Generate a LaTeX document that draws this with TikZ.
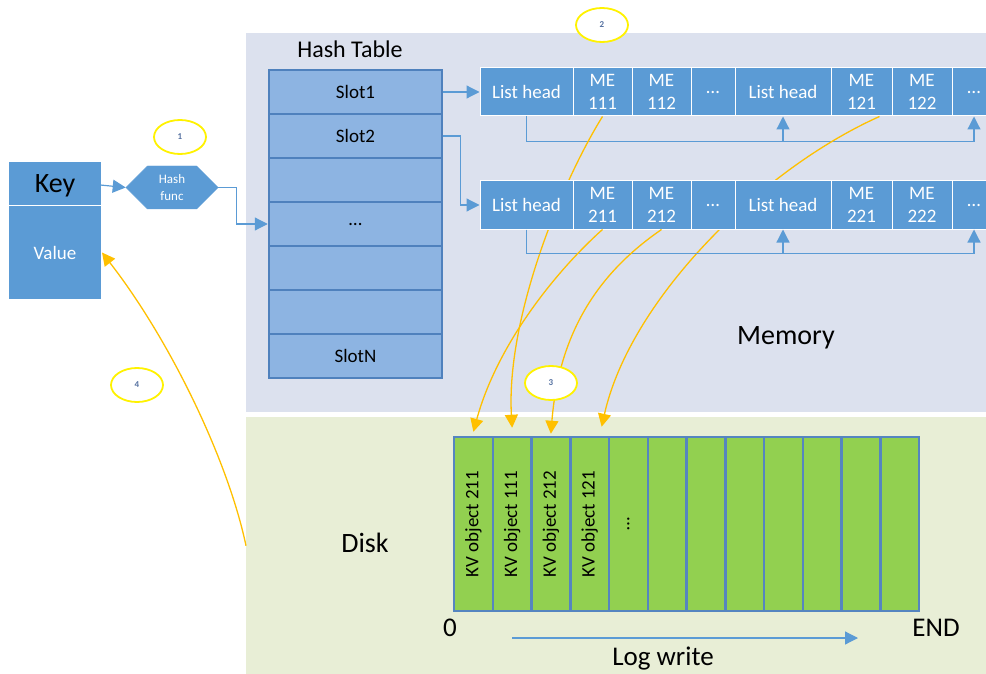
\documentclass[tikz,border=0pt]{standalone}
\usepackage{fontspec}
\setmainfont{Carlito}
\usepackage{tikz}
\usetikzlibrary{shapes.geometric,shapes.symbols,arrows.meta,positioning,calc}

\definecolor{cellblue}{HTML}{5B9BD5}
\definecolor{slotfill}{HTML}{8DB4E2}
\definecolor{slotedge}{HTML}{4F81BD}
\definecolor{memfill}{HTML}{DCE1EE}
\definecolor{diskfill}{HTML}{E8EED6}
\definecolor{loggreen}{HTML}{92D050}
\definecolor{logedge}{HTML}{5585C0}
\definecolor{wireorange}{HTML}{FFC000}
\definecolor{tagyellow}{HTML}{FFF200}
\definecolor{tagtext}{HTML}{5470A0}

\newcommand{\setfs}[2]{\fontsize{#1}{#2}\selectfont}

\begin{document}
\begin{tikzpicture}[
x=1pt, y=-1pt,
area/.style={inner sep=0pt, anchor=north west},
memcell/.style={draw=white, line width=1pt, fill=cellblue, text=white, align=center,
  minimum height=48pt, inner sep=0pt, font=\setfs{19}{23}},
slot/.style={draw=slotedge, line width=2.5pt, fill=slotfill, minimum width=173pt,
  minimum height=44pt, inner sep=0pt, font=\setfs{19}{23}},
logcell/.style={draw=logedge, line width=2.5pt, fill=loggreen, minimum width=38.75pt,
  minimum height=174pt, inner sep=0pt},
kvtext/.style={rotate=90, font=\setfs{19}{23}},
tag/.style={ellipse, draw=tagyellow, line width=1.8pt, fill=white, minimum width=52pt,
  minimum height=34pt, inner sep=0pt, text=tagtext, font=\setfs{9}{10}\bfseries},
link/.style={-{Triangle[length=13pt,width=13pt]}, draw=cellblue, line width=1.2pt},
wire/.style={-{Triangle[length=13pt,width=13pt]}, draw=wireorange, line width=1.3pt}
]
\useasboundingbox (0,0) rectangle (986,674);

% Memory and disk areas
\node[area, fill=memfill, minimum width=740pt, minimum height=379pt] (membg) at (246,33) {};
\node[area, fill=diskfill, minimum width=740pt, minimum height=257pt] (diskbg) at (246,417) {};
\node[font=\setfs{28}{32}] (memlabel) at (786,338) {Memory};
\node[font=\setfs{28}{32}] (disklabel) at (365,543) {Disk};

% Key / value and hash function
\node[fill=cellblue, draw=white, line width=1pt, minimum width=93pt, minimum height=44pt,
  inner sep=0pt, text depth=0pt, font=\setfs{28}{32}] (key) at (55,184) {Key};
\node[fill=cellblue, draw=white, line width=1pt, minimum width=93pt, minimum height=93pt,
  inner sep=0pt, text=white, font=\setfs{19}{23}] (value) at (55,252.5) {Value};
\node[signal, signal to=west and east, signal pointer angle=90, fill=cellblue, draw=cellblue,
  minimum width=92pt, minimum height=43pt, inner sep=0pt, text=white, align=center,
  font=\setfs{13}{17}] (hash) at (172,187.5) {Hash\\func};
\draw[link] ([xshift=-12pt]key.east) -- (hash.west);

% Hash table
\node[font=\setfs{24}{28}] (httitle) at (350,49) {Hash Table};
\foreach \i/\txt in {1/Slot1, 2/Slot2, 3/{}, 4/\dots, 5/{}, 6/{}, 7/SlotN}
  \node[slot] (slot\i) at (355.5,{48+44*\i}) {\txt};
\draw[link] (hash.east) -- ++(18,0) |- (slot4.west);

% First list
\node[memcell, minimum width=93pt] (lh1) at (526.5,92) {List head};
\node[memcell, minimum width=59pt] (me111) at (602.5,92) {ME\\111};
\node[memcell, minimum width=59pt] (me112) at (661.5,92) {ME\\112};
\node[memcell, minimum width=44pt] (d1a) at (713,92) {\dots};
\node[memcell, minimum width=96pt] (lh12) at (783,92) {List head};
\node[memcell, minimum width=61pt] (me121) at (861.5,92) {ME\\121};
\node[memcell, minimum width=60pt] (me122) at (922,92) {ME\\122};
\node[memcell, minimum width=44pt] (d1b) at (974,92) {\dots};
\draw[link] (lh1.south) -- ++(0,25) coordinate (bus1) -| (d1b.south);
\draw[link] (bus1) -| (lh12.south);
\draw[link] (slot1.east) -- (lh1.west);

% Log on disk
\foreach \i in {1,...,12}
  \node[logcell] (log\i) at ({454+38.75*(\i-0.5)},524) {};
\foreach \i/\txt in {1/KV object 211, 2/KV object 111, 3/KV object 212, 4/KV object 121, 5/\dots}
  \node[kvtext] (kv\i) at (log\i) {\txt};

% Writes that pass behind the second list
\draw[wire] (me111.south) .. controls (560,185) and (506,320) .. ([yshift=8pt]log2.north);
\draw[wire] ([xshift=18pt]me121.south) .. controls (760,170) and (630,300) .. ([shift={(12,-9)}]log4.north);

% Second list
\node[memcell, minimum width=93pt] (lh2) at (526.5,205) {List head};
\node[memcell, minimum width=59pt] (me211) at (602.5,205) {ME\\211};
\node[memcell, minimum width=59pt] (me212) at (661.5,205) {ME\\212};
\node[memcell, minimum width=44pt] (d2a) at (713,205) {\dots};
\node[memcell, minimum width=96pt] (lh22) at (783,205) {List head};
\node[memcell, minimum width=61pt] (me221) at (861.5,205) {ME\\221};
\node[memcell, minimum width=60pt] (me222) at (922,205) {ME\\222};
\node[memcell, minimum width=44pt] (d2b) at (974,205) {\dots};
\draw[link] (lh2.south) -- ++(0,24) coordinate (bus2) -| (d2b.south);
\draw[link] (bus2) -| (lh22.south);
\draw[link] (slot2.east) -- ++(17,0) |- (lh2.west);

\draw[wire] (me211.south) .. controls (555,272) and (497,345) .. ([yshift=4pt]log1.north);
\draw[wire] (me212.south) .. controls (610,265) and (560,320) .. ([yshift=2pt]log3.north);

% Read back to the value
\draw[wire] (diskbg.west) .. controls (228,460) and (170,340) .. (value.east);

% Log write direction
\node[font=\setfs{27}{31}] (zero) at (450,628) {0};
\node[font=\setfs{27}{31}] (endlabel) at (936,628) {END};
\node[font=\setfs{27}{31}] (logwrite) at (663,659) {Log write};
\coordinate (lwstart) at (512,638);
\coordinate (lwend) at (858,638);
\draw[link] (lwstart) -- (lwend);

% Step numbers
\node[tag] (tag1) at (180,137) {1};
\node[tag] (tag2) at (602,25) {2};
\node[tag] (tag3) at (551,383) {3};
\node[tag] (tag4) at (137,385) {4};

\end{tikzpicture}
\end{document}
